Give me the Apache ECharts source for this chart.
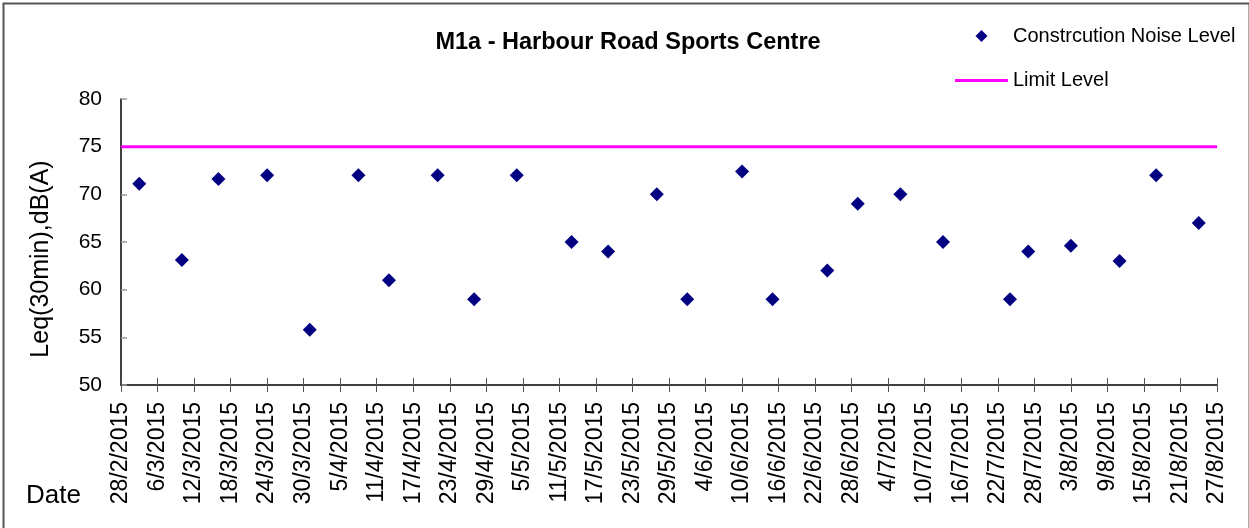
<!DOCTYPE html>
<html>
<head>
<meta charset="utf-8">
<script src="https://cdn.jsdelivr.net/npm/echarts@6/dist/echarts.min.js"></script>
<style>
html,body{margin:0;padding:0;background:#fff;}
#c{width:1249px;height:528px;}
</style>
</head>
<body>
<div id="c"></div>
<script>
// ---- data ----
var axisStartDate = '28/2/2015';
var dayStep = 6;
var xTickLabels = ['28/2/2015','6/3/2015','12/3/2015','18/3/2015','24/3/2015','30/3/2015',
  '5/4/2015','11/4/2015','17/4/2015','23/4/2015','29/4/2015','5/5/2015','11/5/2015',
  '17/5/2015','23/5/2015','29/5/2015','4/6/2015','10/6/2015','16/6/2015','22/6/2015',
  '28/6/2015','4/7/2015','10/7/2015','16/7/2015','22/7/2015','28/7/2015','3/8/2015',
  '9/8/2015','15/8/2015','21/8/2015','27/8/2015'];
var noiseDates = ['3/3/2015','10/3/2015','16/3/2015','24/3/2015','31/3/2015','8/4/2015',
  '13/4/2015','21/4/2015','27/4/2015','4/5/2015','13/5/2015','19/5/2015','27/5/2015',
  '1/6/2015','10/6/2015','15/6/2015','24/6/2015','29/6/2015','6/7/2015','13/7/2015',
  '24/7/2015','27/7/2015','3/8/2015','11/8/2015','17/8/2015','24/8/2015'];
var noiseValues = [71.1,63.1,71.6,72.0,55.8,72.0,61.0,72.0,59.0,72.0,65.0,64.0,70.0,
  59.0,72.4,59.0,62.0,69.0,70.0,65.0,59.0,64.0,64.6,63.0,72.0,67.0];
var limitDates = ['28/2/2015','27/8/2015'];
var limitValues = [75, 75];
var yTicks = {min: 50, max: 80, step: 5};

// ---- helpers ----
function toUTC(s){ var p = s.split('/'); return Date.UTC(+p[2], +p[1]-1, +p[0]); }
var t0 = toUTC(axisStartDate);
function dayOf(s){ return Math.round((toUTC(s) - t0) / 86400000); }
var xMax = (xTickLabels.length - 1) * dayStep;

var FONT = "'Liberation Sans', Arial, sans-serif";
var noiseData = noiseDates.map(function(d,i){ return [dayOf(d), noiseValues[i]]; });
var limitData = limitDates.map(function(d,i){ return [dayOf(d), limitValues[i]]; });

var chart = echarts.init(document.getElementById('c'), null, {renderer:'canvas'});
chart.setOption({
  animation: false,
  backgroundColor: '#fff',
  textStyle: {fontFamily: FONT},
  title: {
    text: 'M1a - Harbour Road Sports Centre',
    left: 623, top: 26, textAlign: 'center',
    textStyle: {fontFamily: FONT, fontSize: 23.5, fontWeight: 'bold', color: '#000'}
  },
  legend: {
    orient: 'vertical', left: 950, top: 21,
    itemWidth: 53, itemHeight: 12, itemGap: 24.5,
    symbolKeepAspect: true,
    textStyle: {fontFamily: FONT, fontSize: 20, color: '#000'},
    data: [
      {name: 'Constrcution Noise Level', icon: 'path://M0,-1L1,0L0,1L-1,0Z',
       itemStyle: {color: '#000080', opacity: 1}},
      {name: 'Limit Level', icon: 'path://M0,0L53,0L53,3L0,3Z',
       itemStyle: {color: '#FF00FF'}}
    ]
  },
  grid: {left: 121, top: 99, width: 1096, height: 286, containLabel: false},
  xAxis: [{
    type: 'value', min: 0, max: xMax, interval: dayStep,
    axisLine: {show: true, onZero: false, lineStyle: {color: '#000', width: 1.5}},
    axisTick: {show: true, inside: false, length: 7, lineStyle: {color: '#555', width: 1}},
    splitLine: {show: false},
    axisLabel: {
      rotate: 90, margin: 17, fontSize: 23, fontFamily: FONT, color: '#000',
      showMinLabel: true, showMaxLabel: true,
      formatter: function(v){ return xTickLabels[Math.round(v / dayStep)] || ''; }
    }
  }, {
    type: 'value', min: 0, max: xMax, interval: dayStep, position: 'bottom',
    axisLine: {show: false, onZero: false},
    axisTick: {show: true, inside: true, length: 7, lineStyle: {color: '#555', width: 1}},
    splitLine: {show: false}, axisLabel: {show: false}
  }],
  yAxis: {
    type: 'value', min: yTicks.min, max: yTicks.max, interval: yTicks.step,
    axisLine: {show: true, lineStyle: {color: '#000', width: 1.5}},
    axisTick: {show: true, inside: true, length: 6, lineStyle: {color: '#999', width: 1.5}},
    splitLine: {show: false},
    axisLabel: {margin: 19, fontSize: 21, fontFamily: FONT, color: '#000'}
  },
  series: [{
    name: 'Constrcution Noise Level', type: 'scatter',
    symbol: 'diamond', symbolSize: 14,
    itemStyle: {color: '#000080', opacity: 1},
    data: noiseData, z: 3
  }, {
    name: 'Limit Level', type: 'line', symbol: 'none', showSymbol: false,
    lineStyle: {color: '#FF00FF', width: 3},
    itemStyle: {color: '#FF00FF'},
    data: limitData, z: 2
  }],
  graphic: [{
    type: 'rect', left: 1, top: 1, silent: true,
    shape: {width: 1246, height: 560},
    style: {fill: 'none', stroke: '#555', lineWidth: 2}
  }, {
    type: 'text', x: 41, y: 259, rotation: Math.PI/2,
    style: {text: 'Leq(30min),dB(A)', font: '25px ' + FONT, fill: '#000',
      textAlign: 'center', textVerticalAlign: 'middle'}
  }, {
    type: 'text', x: 26, y: 496,
    style: {text: 'Date', font: '26px ' + FONT, fill: '#000',
      textAlign: 'left', textVerticalAlign: 'middle'}
  }]
});
</script>
</body>
</html>
